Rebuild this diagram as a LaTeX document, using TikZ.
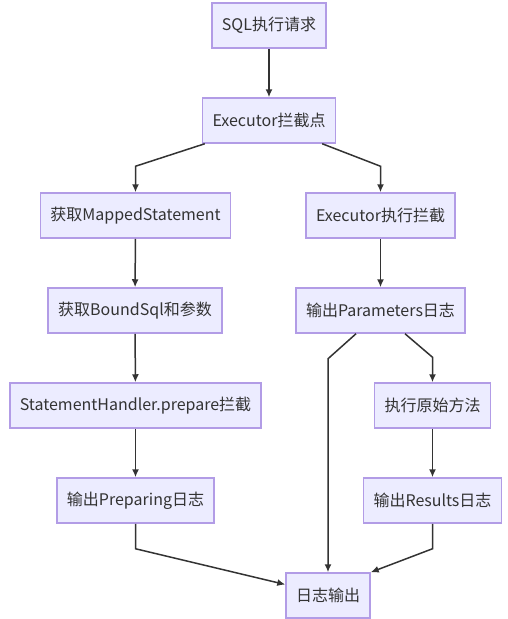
\documentclass[tikz,border=0pt]{standalone}
\usepackage{fontspec}
\setmainfont{Noto Sans CJK SC}
\usetikzlibrary{arrows.meta,calc}
\definecolor{boxfill}{HTML}{ECECFF}
\definecolor{boxline}{HTML}{B29CE6}
\definecolor{edgecol}{HTML}{333333}
\tikzset{
  proc/.style={rectangle, draw=boxline, fill=boxfill, line width=1.5pt,
    minimum height=45pt, inner xsep=10pt, text=edgecol},
  flow/.style={->, draw=edgecol, line width=1.5pt}
}
\begin{document}
\begin{tikzpicture}[x=1pt, y=-1pt, >={Latex[length=8pt,width=7pt]},
    font=\fontsize{16}{19}\selectfont]
    \useasboundingbox (0,0) rectangle (508,619);

    \node[proc] (sql)       at (269,25.5)  {SQL执行请求};
    \node[proc] (intercept) at (269,120.5) {Executor拦截点};
    \node[proc] (mapped)    at (135.5,215.5) {获取MappedStatement};
    \node[proc] (execrun)   at (380.5,215.5) {Executor执行拦截};
    \node[proc] (bound)     at (135,310.5) {获取BoundSql和参数};
    \node[proc] (params)    at (380.5,310.5) {输出Parameters日志};
    \node[proc] (handler)   at (135.5,405.5) {StatementHandler.prepare拦截};
    \node[proc] (orig)      at (432.5,405.5) {执行原始方法};
    \node[proc] (prep)      at (135.5,500.5) {输出Preparing日志};
    \node[proc] (results)   at (432.5,500.5) {输出Results日志};
    \node[proc] (logout)    at (328,595.5) {日志输出};

    % 左侧
    \draw[flow] (sql) -- (intercept);
    \draw[flow] ([xshift=3pt]intercept.south west) -- ([yshift=26pt]mapped.north) -- (mapped);
    \draw[flow] (mapped) -- (bound);
    \draw[flow] (bound) -- (handler);
    \draw[flow] (handler) -- (prep);
    \draw[flow] (prep) -- ([yshift=-25pt]prep.south) -- ([yshift=11pt]logout.west);

    % 右侧
    \draw[flow] ([xshift=-14pt]intercept.south east) -- ([yshift=26pt]execrun.north) -- (execrun);
    \draw[flow] (execrun) -- (params);
    \draw[flow] ([xshift=-24.5pt]params.south) -- ($(logout.north |- params.south)+(0,25)$) -- (logout);
    \draw[flow] ([xshift=24.5pt]params.south) -- ([yshift=25pt]orig.north) -- (orig);
    \draw[flow] (orig) -- (results);
    \draw[flow] (results) -- ([yshift=-25pt]results.south) -- (logout.north east);
\end{tikzpicture}
\end{document}
